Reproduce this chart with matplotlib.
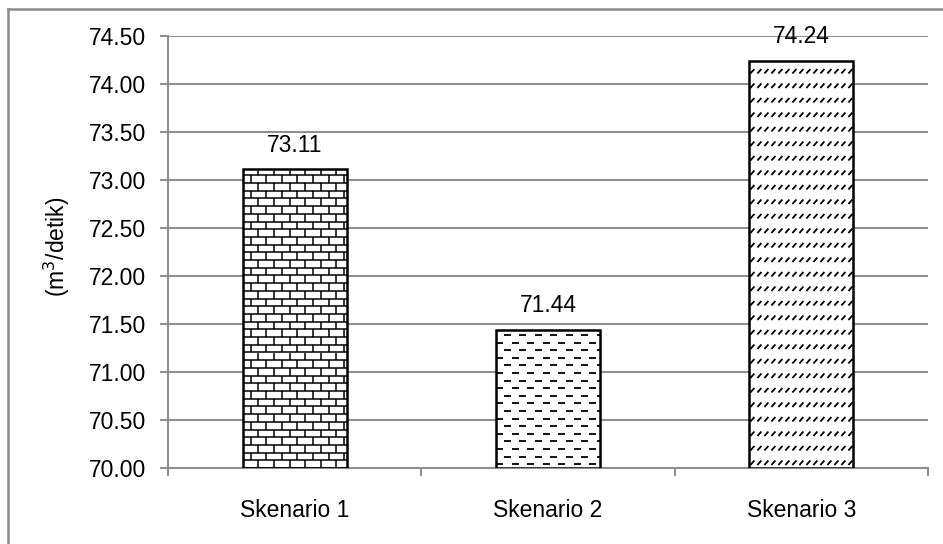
import numpy as np
import matplotlib
matplotlib.use("Agg")
import matplotlib.pyplot as plt
from matplotlib.collections import LineCollection
from matplotlib.lines import Line2D
from matplotlib.transforms import IdentityTransform

plt.rcParams['font.family'] = ['Liberation Sans', 'DejaVu Sans']

scenarios = ['Skenario 1', 'Skenario 2', 'Skenario 3']
debit = [73.11, 71.44, 74.24]
y_ticks = [70.00, 70.50, 71.00, 71.50, 72.00, 72.50, 73.00, 73.50, 74.00, 74.50]

GRID = '#8f8f8f'
DPI = 100

fig = plt.figure(figsize=(9.43, 5.44), dpi=DPI)
ax = fig.add_axes([168 / 943, 76 / 544, 760 / 943, 432 / 544])

x = np.arange(len(scenarios))
bars = ax.bar(x, [v - y_ticks[0] for v in debit], bottom=y_ticks[0], width=0.41,
              color='white', edgecolor='black', linewidth=1.8, zorder=3)

ax.set_xlim(-0.5, len(scenarios) - 0.5)
ax.set_ylim(y_ticks[0], y_ticks[-1])
ax.set_yticks(y_ticks)
ax.set_yticklabels([f'{t:.2f}' for t in y_ticks], fontsize=16.5)
ax.set_xticks(x)
ax.set_xticklabels(scenarios, fontsize=16.5)
ax.set_xticks(np.arange(len(scenarios) + 1) - 0.5, minor=True)
ax.tick_params(axis='x', which='major', length=0, pad=22)
ax.tick_params(axis='x', which='minor', length=6, width=1.5, color=GRID, direction='out')
ax.tick_params(axis='y', length=6, width=1.5, color=GRID, pad=10)
ax.yaxis.grid(True, color=GRID, linewidth=1.5, zorder=0)
ax.set_axisbelow(True)
for side in ('top', 'right'):
    ax.spines[side].set_visible(False)
for side in ('left', 'bottom'):
    ax.spines[side].set_color(GRID)
    ax.spines[side].set_linewidth(1.5)

for b, v in zip(bars, debit):
    ax.annotate(f'{v:.2f}', (b.get_x() + b.get_width() / 2, v), xytext=(0, 9),
                textcoords='offset points', ha='center', va='bottom', fontsize=16.5)

fig.text(57 / 943, 1 - 247 / 544, '(m$^3$/detik)', rotation=90, ha='center',
         va='center', fontsize=16.5)


# fill patterns, laid out in pixel space and trimmed to each bar
def bar_box(b):
    (x0, y0), (x1, y1) = ax.transData.transform(
        [(b.get_x(), b.get_y()), (b.get_x() + b.get_width(), b.get_y() + b.get_height())])
    return x0, y0, x1, y1


def brick(x0, y0, x1, y1, row=7.7, brick_w=15.6):
    segs = []
    for i, y in enumerate(np.arange(y0, y1, row)):
        segs.append([(x0, y), (x1, y)])
        off = 0 if i % 2 == 0 else brick_w / 2
        for xv in np.arange(x0 + off, x1, brick_w):
            segs.append([(xv, y), (xv, min(y + row, y1))])
    return segs


def dashes(x0, y0, x1, y1, row=7.6, period=15.5, dash=7):
    segs = []
    for i, y in enumerate(np.arange(y0 + row / 2, y1, row)):
        off = 0 if i % 2 == 0 else period / 2
        for xv in np.arange(x0 + off - period, x1, period):
            a, c = max(xv, x0), min(xv + dash, x1)
            if c > a:
                segs.append([(a, y), (c, y)])
    return segs


def slashes(x0, y0, x1, y1, row=14.5, period=7, dx=4, dy=4.5):
    segs = []
    for y in np.arange(y0 + 3, y1 - dy, row):
        for xv in np.arange(x0 + 1, x1 - dx, period):
            segs.append([(xv, y), (xv + dx, y + dy)])
    return segs


fig.canvas.draw()
for b, pattern, lw in zip(bars, (brick, dashes, slashes), (1.1, 1.3, 1.3)):
    lc = LineCollection(pattern(*bar_box(b)), colors='black', linewidths=lw,
                        transform=IdentityTransform(), zorder=3.5)
    ax.add_collection(lc, autolim=False)
    lc.set_clip_path(b)

# outer frame of the chart area
fig.add_artist(Line2D([8 / 943, 8 / 943], [0, 1 - 9 / 544], color='#8a8a8a',
                      linewidth=1.8, transform=fig.transFigure))
fig.add_artist(Line2D([8 / 943, 1], [1 - 9 / 544, 1 - 9 / 544], color='#8a8a8a',
                      linewidth=1.8, transform=fig.transFigure))

fig.savefig('out.png', dpi=DPI)
